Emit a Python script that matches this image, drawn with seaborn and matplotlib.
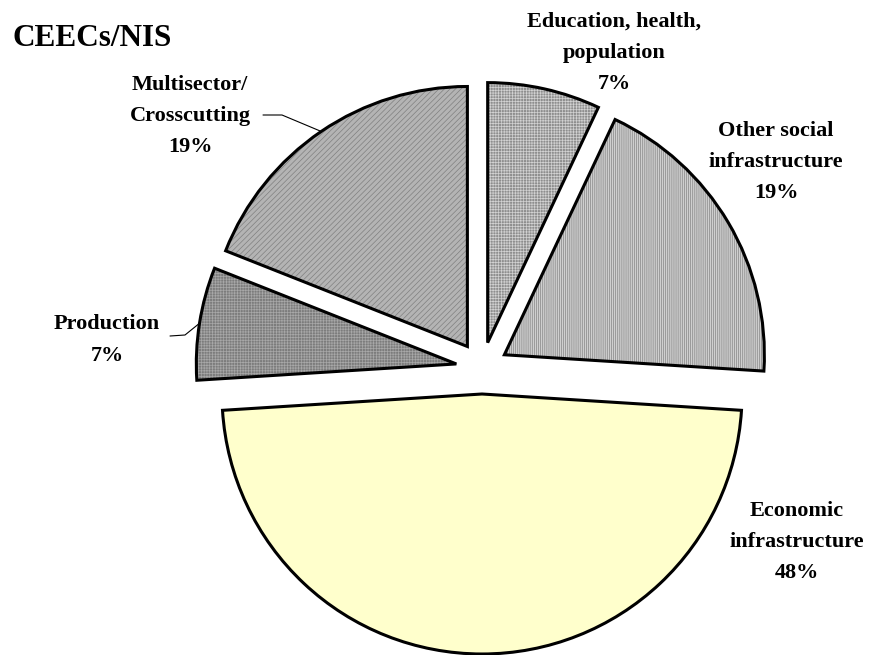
import numpy as np
import matplotlib
matplotlib.use("Agg")
import matplotlib.pyplot as plt
import seaborn as sns

# Chart data
sectors = ["Education, health,\npopulation", "Other social\ninfrastructure",
           "Economic\ninfrastructure", "Production", "Multisector/\nCrosscutting"]
shares = [7, 19, 48, 7, 19]
title = "CEECs/NIS"

# Fill styles (base colour, hatch, hatch colour)
face_colors = ["#8e8e8e", "#cfcfcf", "#ffffcc", "#7c7c7c", "#b4b4b4"]
hatches = ["++++++", "||||||||", "", "++++++", "//////"]
hatch_colors = ["#d2d2d2", "#858585", "#ffffcc", "#a8a8a8", "#808080"]

sns.set_style("white")
plt.rcParams["font.family"] = ["Liberation Serif", "DejaVu Serif"]
plt.rcParams["hatch.linewidth"] = 0.5

W, H = 872, 655
CX, CY, R = 482, 368, 260  # pie centre and radius in pixels


def px(x, y):
    # pixel position -> data coordinates (pie radius = 1)
    return (x - CX) / R, (CY - y) / R


fig = plt.figure(figsize=(W / 100, H / 100), dpi=100)
ax = fig.add_axes([0, 0, 1, 1])

explode = [0.1] * len(shares)

# textured fill
wedges, _ = ax.pie(shares, startangle=90, counterclock=False, explode=explode,
                   colors=face_colors, hatch=hatches,
                   wedgeprops=dict(linewidth=0))
for w, hc in zip(wedges, hatch_colors):
    w.set_edgecolor(hc)

# black outlines
ax.pie(shares, startangle=90, counterclock=False, explode=explode,
       colors=["none"] * len(shares),
       wedgeprops=dict(linewidth=2.2, edgecolor="black"))

ax.set_aspect("auto")
x0, y0 = px(0, H)
x1, y1 = px(W, 0)
ax.set_xlim(x0, x1)
ax.set_ylim(y0, y1)
ax.axis("off")

# labels
label_pos = [(614, 53), (776, 162), (797, 542), (107, 340), (190, 116)]
for name, share, (lx, ly) in zip(sectors, shares, label_pos):
    tx, ty = px(lx, ly)
    ax.text(tx, ty, f"{name}\n{share}%", ha="center", va="center",
            fontsize=16, fontweight="bold", linespacing=1.75, color="black")

# leader lines to the middle of the arc
leaders = {4: [(263, 115), (282, 115)], 3: [(170, 336), (185, 335)]}
for i, pts in leaders.items():
    w = wedges[i]
    mid = np.deg2rad((w.theta1 + w.theta2) / 2)
    cx, cy = w.center
    ax_pt = (cx + np.cos(mid), cy + np.sin(mid))
    xs = [px(*p)[0] for p in pts] + [ax_pt[0]]
    ys = [px(*p)[1] for p in pts] + [ax_pt[1]]
    ax.plot(xs, ys, color="black", linewidth=0.8)

tx, ty = px(12, 46)
ax.text(tx, ty, title, ha="left", va="baseline", fontsize=22.5,
        fontweight="bold", color="black")

fig.savefig("out.png", dpi=100)
